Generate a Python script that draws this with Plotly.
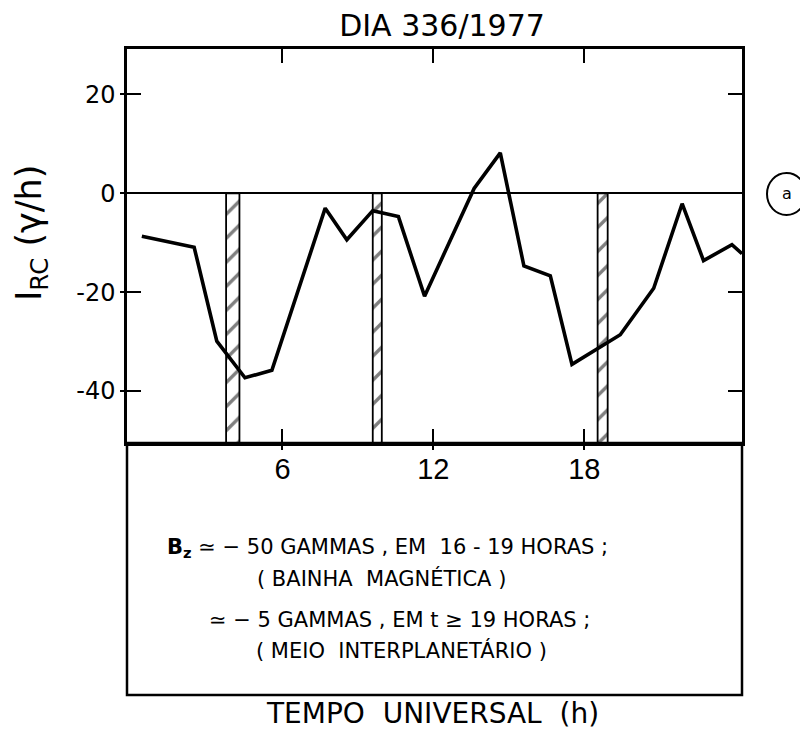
import plotly.graph_objects as go

# ---------------- data ----------------
hours = [0.41, 2.49, 3.39, 4.51, 5.58, 7.70, 8.56, 9.59, 10.61, 11.65,
         13.62, 14.66, 15.60, 16.65, 17.51, 19.43, 20.76, 21.89, 22.74, 23.87, 24.27]
irc = [-8.7, -10.9, -29.9, -37.3, -35.8, -3.0, -9.4, -3.5, -4.7, -20.8,
       1.0, 8.2, -14.7, -16.7, -34.6, -28.6, -19.2, -2.1, -13.6, -10.4, -12.2]

hatch_start = [3.76, 9.59, 18.53]   # hatched intervals (h)
hatch_end = [4.29, 9.95, 18.93]
hatch_top = 0.0

x_ticks = [6, 12, 18]
x_tick_labels = ["6", "12", "18"]
y_ticks = [20, 0, -20, -40]
y_tick_labels = ["20", "0", "-20", "-40"]

X_RANGE = [-0.18, 24.27]
Y_RANGE = [-50.5, 29.2]

FONT = "DejaVu Sans"

# page body has an 8px default margin -> figure is 800x748 placed at (8, 8)
W, H = 800, 748
OFF = 8

# ---------------- figure ----------------
fig = go.Figure()

centers = [(a + b) / 2 for a, b in zip(hatch_start, hatch_end)]
widths = [b - a for a, b in zip(hatch_start, hatch_end)]
fig.add_trace(go.Bar(
    x=centers, width=widths,
    base=[Y_RANGE[0]] * len(centers),
    y=[hatch_top - Y_RANGE[0]] * len(centers),
    marker=dict(color="white",
                line=dict(color="black", width=1.8),
                pattern=dict(shape="/", fgcolor="black", bgcolor="white",
                             size=17, solidity=0.2)),
    showlegend=False, hoverinfo="skip",
))

# the curve lives on the overlay axes (same ranges) so it is drawn above the bars
fig.add_trace(go.Scatter(
    x=hours, y=irc, mode="lines", xaxis="x2", yaxis="y2",
    line=dict(color="black", width=3.6),
    showlegend=False,
))

axis_common = dict(showgrid=False, showline=True, linecolor="black",
                   linewidth=2.5, mirror="ticks", ticks="inside",
                   ticklen=14, tickwidth=2.2, tickcolor="black")

fig.update_layout(
    width=W, height=H,
    margin=dict(l=127 - OFF, r=W - (742 - OFF), t=49 - OFF, b=H - (443 - OFF)),
    paper_bgcolor="white", plot_bgcolor="white",
    barmode="overlay",
    font=dict(family=FONT, color="black"),
    title=dict(text="DIA 336/1977", x=(442 - OFF) / W, xanchor="center",
               y=1 - (25 - OFF) / H, yanchor="middle",
               font=dict(size=30, family=FONT, color="black")),
    xaxis=dict(range=X_RANGE, tickvals=x_ticks, ticktext=x_tick_labels,
               tickfont=dict(size=29, family="Liberation Sans"),
               ticklabelstandoff=-2, zeroline=False, **axis_common),
    yaxis=dict(range=Y_RANGE, tickvals=y_ticks, ticktext=y_tick_labels,
               tickfont=dict(size=24, family=FONT),
               ticklabelstandoff=4,
               zeroline=True, zerolinecolor="black", zerolinewidth=2.2,
               **axis_common),
    xaxis2=dict(range=X_RANGE, overlaying="x", anchor="y2", side="bottom",
                tickvals=x_ticks, showticklabels=False, ticks="outside",
                ticklen=6, tickwidth=2.2, tickcolor="black",
                showline=False, showgrid=False, zeroline=False),
    yaxis2=dict(range=Y_RANGE, overlaying="y", anchor="x2", side="left",
                tickvals=y_ticks, showticklabels=False, ticks="outside",
                ticklen=6, tickwidth=2.2, tickcolor="black",
                showline=False, showgrid=False, zeroline=False),
)

# helpers converting window pixel positions of layout items into paper coords
def px(xp):
    return (xp - 127) / 615

def py(yp):
    return (443 - yp) / 394

# lower text box
fig.add_shape(type="rect", xref="paper", yref="paper",
              x0=0, x1=1, y0=py(695), y1=0,
              line=dict(color="black", width=2.5), fillcolor="rgba(0,0,0,0)")

# circle label (a)
fig.add_shape(type="circle", xref="paper", yref="paper",
              x0=px(767), x1=px(806), y0=py(215), y1=py(173),
              line=dict(color="black", width=2))

annotations = [
    dict(text="a", x=px(786.5), y=py(193), xanchor="center", yanchor="middle",
         font=dict(size=16)),
    dict(text="<b>B<sub>z</sub></b> ≃ − 50 GAMMAS , EM  16 - 19 HORAS ;",
         x=px(165), y=py(548), xanchor="left", yanchor="middle",
         font=dict(size=21)),
    dict(text="( BAINHA  MAGNÉTICA )", x=px(255), y=py(578),
         xanchor="left", yanchor="middle", font=dict(size=21)),
    dict(text="≃ − 5 GAMMAS , EM t ≥ 19 HORAS ;", x=px(207), y=py(620),
         xanchor="left", yanchor="middle", font=dict(size=21)),
    dict(text="( MEIO  INTERPLANETÁRIO )", x=px(254), y=py(650),
         xanchor="left", yanchor="middle", font=dict(size=21)),
    dict(text="TEMPO  UNIVERSAL  (h)", x=px(432), y=py(713),
         xanchor="center", yanchor="middle", font=dict(size=28)),
    dict(text="I<sub>RC</sub> (γ/h)", x=px(32), y=py(233), textangle=-90,
         xanchor="center", yanchor="middle", font=dict(size=35)),
]
for a in annotations:
    fig.add_annotation(xref="paper", yref="paper", showarrow=False,
                       font_family=FONT, font_color="black", **a)

fig.write_html("out.html")
